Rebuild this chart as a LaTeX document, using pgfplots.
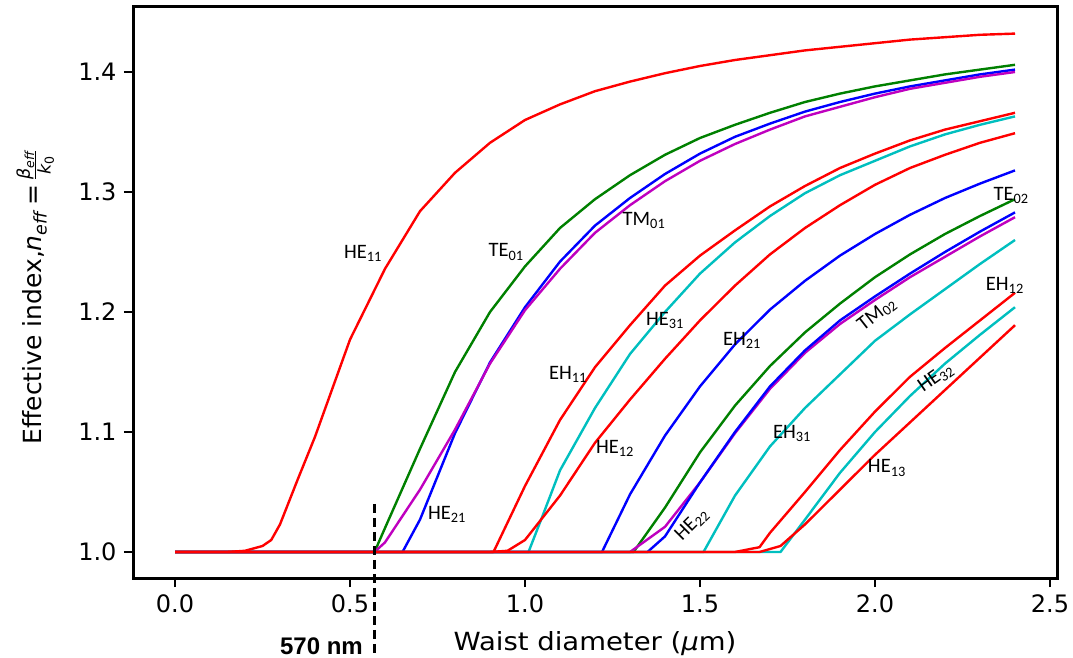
\documentclass[border=0pt]{standalone}
\usepackage{fontspec}
\usepackage{amsmath}
\usepackage{pgfplots}
\pgfplotsset{compat=1.18}
\setmainfont{DejaVu Sans}
\newfontfamily\widefont{DejaVu Sans}[FakeStretch=1.1]
\newfontfamily\calfont{Carlito}
\newfontfamily\arialfont{Liberation Sans}
\definecolor{mr}{rgb}{1,0,0}
\definecolor{mg}{rgb}{0,0.5,0}
\definecolor{mb}{rgb}{0,0,1}
\definecolor{mm}{rgb}{0.75,0,0.75}
\definecolor{mc}{rgb}{0,0.75,0.75}
\newcommand{\lb}[2]{#1\textsubscript{#2}}
\begin{document}
\begin{tikzpicture}
\useasboundingbox (-133pt,-80pt) rectangle (940pt,578pt);
\begin{axis}[
  at={(0,0)}, anchor=south west,
  scale only axis, width=924pt, height=571pt,
  xmin=-0.12, xmax=2.52, ymin=0.97833, ymax=1.45417,
  clip=false,
  axis line style={line width=3pt},
  tick align=outside, xtick pos=bottom, ytick pos=left,
  major tick length=9pt,
  every tick/.style={line width=2.2pt, black},
  xtick={0,0.5,1,1.5,2,2.5},
  ytick={1.0,1.1,1.2,1.3,1.4},
  tick label style={font=\fontsize{24}{28}\selectfont},
  /pgf/number format/.cd, fixed, fixed zerofill, precision=1, assume math mode=true,
  /pgfplots/.cd,
  yticklabel style={xshift=-4pt},
  xticklabel style={yshift=-4pt},
  every axis plot/.append style={line width=2.4pt, line join=round},
]
% non-red curves
\addplot[mg] coordinates {(0,1)(0.57,1)(0.6,1.02)(0.7,1.086)(0.8,1.15)(0.9,1.2)(1.0,1.238)(1.1,1.27)(1.2,1.294)(1.3,1.314)(1.4,1.331)(1.5,1.345)(1.6,1.356)(1.7,1.366)(1.8,1.375)(1.9,1.382)(2.0,1.388)(2.1,1.393)(2.2,1.398)(2.3,1.402)(2.4,1.406)};
\addplot[mb] coordinates {(0,1)(0.65,1)(0.7,1.027)(0.8,1.099)(0.9,1.158)(1.0,1.204)(1.1,1.242)(1.2,1.272)(1.3,1.295)(1.4,1.315)(1.5,1.332)(1.6,1.346)(1.7,1.357)(1.8,1.367)(1.9,1.375)(2.0,1.382)(2.1,1.388)(2.2,1.393)(2.3,1.398)(2.4,1.402)};
\addplot[mm] coordinates {(0,1)(0.57,1)(0.6,1.008)(0.7,1.052)(0.8,1.102)(0.9,1.157)(1.0,1.2015)(1.1,1.236)(1.2,1.266)(1.3,1.289)(1.4,1.309)(1.5,1.326)(1.6,1.34)(1.7,1.352)(1.8,1.363)(1.9,1.371)(2.0,1.379)(2.1,1.386)(2.2,1.391)(2.3,1.396)(2.4,1.4)};
\addplot[mc] coordinates {(0,1)(1.01,1)(1.05,1.03)(1.1,1.068)(1.2,1.12)(1.3,1.165)(1.4,1.2)(1.5,1.232)(1.6,1.258)(1.7,1.28)(1.8,1.299)(1.9,1.314)(2.0,1.326)(2.1,1.338)(2.2,1.348)(2.3,1.356)(2.4,1.363)};
\addplot[mb] coordinates {(0,1)(1.22,1)(1.3,1.048)(1.4,1.097)(1.5,1.138)(1.6,1.173)(1.7,1.202)(1.8,1.226)(1.9,1.247)(2.0,1.265)(2.1,1.281)(2.2,1.295)(2.3,1.307)(2.4,1.318)};
\addplot[mg] coordinates {(0,1)(1.31,1)(1.4,1.037)(1.5,1.083)(1.6,1.122)(1.7,1.155)(1.8,1.183)(1.9,1.207)(2.0,1.229)(2.1,1.248)(2.2,1.265)(2.3,1.28)(2.4,1.294)};
\addplot[mm] coordinates {(0,1)(1.3,1)(1.4,1.021)(1.5,1.058)(1.6,1.099)(1.7,1.136)(1.8,1.166)(1.9,1.19)(2.0,1.21)(2.1,1.229)(2.2,1.246)(2.3,1.263)(2.4,1.279)};
\addplot[mb] coordinates {(0,1)(1.35,1)(1.4,1.013)(1.5,1.058)(1.6,1.1)(1.7,1.138)(1.8,1.168)(1.9,1.193)(2.0,1.213)(2.1,1.232)(2.2,1.25)(2.3,1.267)(2.4,1.283)};
\addplot[mc] coordinates {(0,1)(1.51,1)(1.6,1.047)(1.7,1.088)(1.8,1.12)(1.9,1.148)(2.0,1.176)(2.1,1.198)(2.2,1.219)(2.3,1.24)(2.4,1.26)};
\addplot[mc] coordinates {(0,1)(1.73,1)(1.8,1.027)(1.9,1.066)(2.0,1.1)(2.1,1.13)(2.2,1.157)(2.3,1.181)(2.4,1.204)};
% red curves
\addplot[mr] coordinates {(0,1)(0.15,1)(0.2,1.001)(0.25,1.005)(0.275,1.01)(0.3,1.023)(0.35,1.06)(0.4,1.096)(0.5,1.177)(0.6,1.236)(0.7,1.284)(0.8,1.316)(0.9,1.341)(1.0,1.36)(1.1,1.373)(1.2,1.384)(1.3,1.392)(1.4,1.399)(1.5,1.405)(1.6,1.41)(1.7,1.414)(1.8,1.418)(1.9,1.421)(2.0,1.424)(2.1,1.427)(2.2,1.429)(2.3,1.431)(2.4,1.432)};
\addplot[mr] coordinates {(0,1)(0.91,1)(1.0,1.055)(1.1,1.11)(1.2,1.154)(1.3,1.189)(1.4,1.222)(1.5,1.247)(1.6,1.268)(1.7,1.288)(1.8,1.305)(1.9,1.32)(2.0,1.332)(2.1,1.343)(2.2,1.352)(2.3,1.359)(2.4,1.366)};
\addplot[mr] coordinates {(0,1)(0.9,1)(0.95,1.001)(1.0,1.01)(1.1,1.047)(1.2,1.091)(1.3,1.127)(1.4,1.161)(1.5,1.193)(1.6,1.222)(1.7,1.248)(1.8,1.27)(1.9,1.289)(2.0,1.306)(2.1,1.32)(2.2,1.331)(2.3,1.341)(2.4,1.349)};
\addplot[mr] coordinates {(0,1)(1.6,1)(1.67,1.004)(1.7,1.016)(1.8,1.05)(1.9,1.085)(2.0,1.117)(2.1,1.146)(2.2,1.17)(2.3,1.193)(2.4,1.216)};
\addplot[mr] coordinates {(0,1)(1.67,1)(1.73,1.005)(1.8,1.023)(1.9,1.052)(2.0,1.081)(2.1,1.108)(2.2,1.135)(2.3,1.162)(2.4,1.189)};
% dashed marker
\draw[black, line width=2.4pt, dash pattern=on 9pt off 5pt] (axis cs:0.57,1.04) -- (axis cs:0.57,0.914);
% curve labels
\begin{scope}[every node/.style={font=\calfont\fontsize{20.5}{24}\selectfont, inner sep=0pt}]
\node at (axis cs:0.537,1.249) {\lb{HE}{11}};
\node at (axis cs:0.946,1.25) {\lb{TE}{01}};
\node at (axis cs:1.34,1.276) {\lb{TM}{01}};
\node at (axis cs:0.777,1.031) {\lb{HE}{21}};
\node at (axis cs:1.123,1.148) {\lb{EH}{11}};
\node at (axis cs:1.4,1.193) {\lb{HE}{31}};
\node at (axis cs:1.257,1.086) {\lb{HE}{12}};
\node at (axis cs:1.62,1.176) {\lb{EH}{21}};
\node at (axis cs:2.389,1.297) {\lb{TE}{02}};
\node[rotate=38] at (axis cs:2.006,1.198) {\lb{TM}{02}};
\node at (axis cs:2.371,1.2225) {\lb{EH}{12}};
\node[rotate=45] at (axis cs:1.477,1.023) {\lb{HE}{22}};
\node at (axis cs:1.763,1.099) {\lb{EH}{31}};
\node[rotate=35] at (axis cs:2.174,1.145) {\lb{HE}{32}};
\node at (axis cs:2.034,1.07) {\lb{HE}{13}};
\end{scope}
\end{axis}
% axis titles (pt coordinates relative to axis lower-left corner)
\node[anchor=base, font=\widefont\fontsize{25}{30}\selectfont, inner sep=0pt] at (462pt,-72.5pt) {Waist diameter (\textit{μ}m)};
\node[anchor=base east, font=\arialfont\bfseries\fontsize{24}{28}\selectfont, inner sep=0pt] at (230pt,-77pt) {570 nm};
\node[anchor=base, rotate=90, font=\fontsize{25}{30}\selectfont, inner sep=0pt] at (-91pt,281pt) {Effective index,\textit{n}\textsubscript{\textit{eff}}\,=\,$\frac{\textit{β}_{\textit{eff}}}{\textit{k}_{\text{0}}}$};
\end{tikzpicture}
\end{document}
